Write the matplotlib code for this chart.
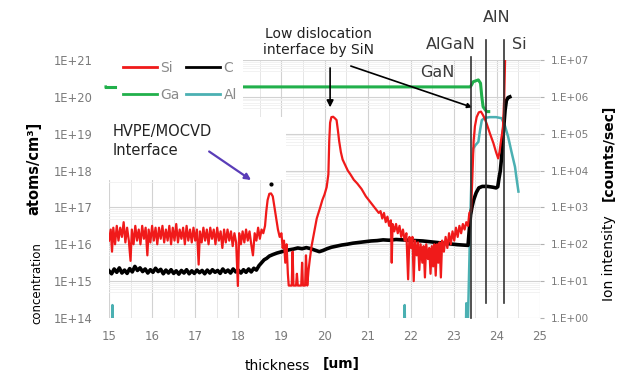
"""SIMS depth profile: Si, C, Ga, Al through the HVPE/MOCVD GaN stack."""

import matplotlib

matplotlib.use("Agg")
import matplotlib.pyplot as plt
import numpy as np
from matplotlib.patches import Rectangle
from matplotlib.ticker import FixedLocator, MultipleLocator, NullFormatter

plt.rcParams["font.family"] = ["DejaVu Sans"]

# depth [um] and log10(concentration [atoms/cm3])
si_depth = [
    15.00, 15.04, 15.07, 15.10, 15.14, 15.18, 15.22, 15.26, 15.30, 15.34, 15.38, 15.42,
    15.46, 15.50, 15.53, 15.57, 15.61, 15.65, 15.69, 15.73, 15.77, 15.81, 15.85, 15.89,
    15.92, 15.96, 16.00, 16.04, 16.08, 16.12, 16.16, 16.20, 16.24, 16.28, 16.32, 16.36,
    16.40, 16.44, 16.48, 16.52, 16.56, 16.60, 16.64, 16.68, 16.72, 16.76, 16.80, 16.84,
    16.88, 16.92, 16.96, 17.00, 17.04, 17.08, 17.11, 17.15, 17.19, 17.23, 17.27, 17.31,
    17.35, 17.39, 17.43, 17.47, 17.51, 17.55, 17.59, 17.63, 17.67, 17.71, 17.75, 17.79,
    17.83, 17.87, 17.91, 17.95, 17.99, 18.02, 18.06, 18.10, 18.14, 18.18, 18.22, 18.26,
    18.30, 18.34, 18.38, 18.42, 18.46, 18.50, 18.54, 18.58,
    18.62, 18.65, 18.68, 18.72, 18.76, 18.80, 18.84, 18.88, 18.92, 18.96, 19.00, 19.03,
    19.06, 19.09, 19.12, 19.15, 19.17, 19.20, 19.24, 19.26, 19.28, 19.34, 19.36, 19.38,
    19.46, 19.48, 19.50, 19.55, 19.57, 19.60, 19.63, 19.66, 19.70, 19.74, 19.78, 19.82,
    19.86, 19.90, 19.95, 20.00, 20.05, 20.09, 20.11, 20.13, 20.16, 20.20, 20.24, 20.28,
    20.31, 20.34, 20.38, 20.42, 20.48, 20.54, 20.60, 20.68, 20.76, 20.86, 20.96, 21.06,
    21.16, 21.26, 21.30, 21.34, 21.38, 21.42, 21.46, 21.50, 21.54, 21.56, 21.58, 21.62,
    21.66, 21.70, 21.74, 21.78, 21.82, 21.86, 21.90, 21.94, 21.97, 22.01, 22.04, 22.07,
    22.10, 22.14, 22.17, 22.20, 22.23, 22.27, 22.30, 22.33, 22.36, 22.40, 22.43, 22.46,
    22.49, 22.52, 22.55, 22.58, 22.61, 22.64, 22.67, 22.70, 22.73, 22.77, 22.81, 22.85,
    22.89, 22.93, 22.97, 23.01, 23.05, 23.09, 23.13, 23.17, 23.21, 23.25, 23.29, 23.33,
    23.36, 23.40, 23.43, 23.46, 23.49, 23.53, 23.58, 23.63, 23.68, 23.72, 23.76, 23.84,
    23.92, 23.98, 24.03, 24.06, 24.10, 24.14, 24.17, 24.19,
]
si_log = [
    16.10, 16.40, 15.80, 16.45, 16.00, 16.50, 16.10, 16.45, 16.20, 16.60, 16.05, 16.45,
    16.10, 15.55, 16.40, 16.00, 16.50, 16.10, 16.40, 16.00, 16.50, 16.15, 16.45, 15.70,
    16.40, 16.05, 16.50, 16.10, 16.45, 16.00, 16.45, 16.15, 16.50, 16.05, 16.40, 16.10,
    16.50, 16.00, 16.45, 16.10, 16.55, 16.05, 16.40, 16.15, 16.45, 16.00, 16.50, 16.10,
    16.40, 16.05, 16.45, 16.10, 16.40, 15.45, 16.35, 16.05, 16.45, 16.10, 16.40, 16.00,
    16.45, 16.15, 16.40, 16.00, 16.45, 16.10, 16.35, 15.90, 16.40, 16.05, 16.40, 16.10,
    16.35, 15.95, 16.30, 16.05, 14.87, 16.30, 16.00, 16.35, 16.05, 16.40, 16.10, 16.35,
    16.00, 15.70, 16.30, 16.10, 16.45, 16.15, 16.40, 16.30,
    16.50, 16.90, 17.20, 17.37, 17.38, 17.30, 17.00, 16.70, 16.40, 16.20, 16.30, 15.90,
    16.10, 15.50, 16.00, 15.20, 14.88, 14.88, 14.88, 15.80, 14.88, 14.88, 15.20, 14.88,
    14.88, 15.50, 14.88, 14.88, 15.70, 14.88, 15.30, 15.60, 15.95, 16.20, 16.45, 16.70,
    16.85, 17.00, 17.20, 17.35, 17.55, 17.90, 18.80, 19.30, 19.45, 19.46, 19.42, 19.37,
    19.10, 18.80, 18.50, 18.30, 18.15, 18.00, 17.90, 17.75, 17.65, 17.50, 17.30, 17.15,
    17.00, 16.85, 16.90, 16.70, 16.85, 16.60, 16.75, 16.50, 16.65, 15.50, 16.55, 16.35,
    16.55, 16.30, 16.50, 16.20, 16.40, 16.10, 16.30, 15.05, 16.20, 15.90, 16.20, 15.00,
    16.10, 15.70, 16.05, 15.30, 16.00, 15.50, 15.95, 15.10, 16.00, 15.60, 15.90, 15.20,
    15.95, 15.40, 16.00, 15.15, 16.00, 15.50, 16.05, 15.10, 16.10, 15.80, 16.20, 15.90,
    16.30, 16.00, 16.35, 16.10, 16.45, 16.20, 16.50, 16.30, 16.55, 16.40, 16.60, 16.50,
    16.85, 16.90, 17.80, 18.80, 19.20, 19.45, 19.58, 19.60, 19.50, 19.40, 19.28, 19.00,
    18.74, 18.50, 18.33, 18.50, 18.85, 19.15, 20.00, 21.00,
]

c_depth = [
    15.00, 15.06, 15.12, 15.18, 15.24, 15.30, 15.36, 15.42, 15.48, 15.54, 15.60, 15.66,
    15.72, 15.78, 15.84, 15.90, 15.96, 16.02, 16.08, 16.14, 16.20, 16.26, 16.32, 16.38,
    16.44, 16.50, 16.56, 16.62, 16.68, 16.74, 16.80, 16.86, 16.92, 16.98, 17.04, 17.10,
    17.16, 17.22, 17.28, 17.34, 17.40, 17.46, 17.52, 17.58, 17.64, 17.70, 17.76, 17.82,
    17.88, 17.94, 18.00, 18.06, 18.12, 18.18, 18.24, 18.30, 18.36, 18.42,
    18.48, 18.54, 18.60, 18.66, 18.72, 18.80, 18.89, 18.98, 19.08, 19.18, 19.28, 19.38,
    19.48, 19.58, 19.68, 19.78, 19.88, 19.96, 20.06, 20.16, 20.28, 20.40, 20.52, 20.66,
    20.80, 20.94, 21.08, 21.22, 21.36, 21.50, 21.66, 21.80, 21.96, 22.12, 22.28, 22.44,
    22.60, 22.76, 22.92, 23.08, 23.20, 23.33,
    23.36, 23.39, 23.42, 23.46, 23.52, 23.58, 23.66, 23.78, 23.90, 23.98, 24.02, 24.05,
    24.08, 24.12, 24.16, 24.19, 24.22, 24.26, 24.30,
]
c_log = [
    15.28, 15.20, 15.33, 15.24, 15.36, 15.22, 15.30, 15.21, 15.34, 15.25, 15.40, 15.29,
    15.36, 15.26, 15.33, 15.22, 15.31, 15.24, 15.35, 15.26, 15.32, 15.20, 15.30, 15.22,
    15.31, 15.21, 15.28, 15.19, 15.29, 15.22, 15.31, 15.20, 15.28, 15.21, 15.30, 15.23,
    15.29, 15.20, 15.30, 15.22, 15.31, 15.24, 15.29, 15.21, 15.33, 15.24, 15.30, 15.22,
    15.33, 15.25, 15.30, 15.22, 15.31, 15.24, 15.33, 15.25, 15.35, 15.30,
    15.42, 15.50, 15.58, 15.62, 15.68, 15.72, 15.76, 15.79, 15.82, 15.85, 15.87, 15.90,
    15.88, 15.91, 15.88, 15.84, 15.80, 15.83, 15.88, 15.92, 15.95, 15.98, 16.00, 16.03,
    16.05, 16.07, 16.09, 16.10, 16.12, 16.11, 16.13, 16.12, 16.11, 16.10, 16.09, 16.07,
    16.05, 16.03, 16.01, 15.99, 15.98, 15.97,
    16.40, 16.80, 17.00, 17.20, 17.40, 17.53, 17.57, 17.57, 17.55, 17.53, 17.56, 17.80,
    18.00, 18.50, 19.20, 19.64, 19.90, 19.98, 20.00,
]

ga_depth = [14.93, 23.38, 23.41, 23.45, 23.57, 23.62, 23.65, 23.68, 23.76, 23.81]
ga_log = [20.27, 20.27, 20.32, 20.41, 20.46, 20.37, 20.00, 19.73, 19.60, 19.60]

al_depth = [
    15.00, 15.07, 15.08, 15.09, 21.85, 21.86, 21.87, 23.28, 23.29, 23.30, 23.33, 23.36,
    23.39, 23.42, 23.45, 23.51, 23.57, 23.61, 23.65, 23.72, 23.84, 23.98, 24.11, 24.19,
    24.26, 24.34, 24.42, 24.46, 24.50,
]
al_log = [
    13.50, 13.50, 14.35, 13.50, 13.50, 14.35, 13.50, 13.50, 14.40, 13.50, 14.00, 15.50,
    17.00, 18.20, 18.60, 18.70, 18.78, 19.10, 19.37, 19.43, 19.45, 19.45, 19.42, 19.20,
    18.92, 18.50, 18.10, 17.75, 17.43,
]

# layer boundaries: depth, log10 top, log10 bottom
layer_x = [23.40, 23.74, 24.16]
layer_top = [21.08, 21.54, 21.54]
layer_bottom = [14.00, 14.41, 14.41]
layer_names = ["AlGaN", "AlN", "Si", "GaN"]
layer_label_pos = [(22.94, 21.43), (23.99, 22.15), (24.52, 21.43), (22.62, 20.66)]

left_ticks = [1e14, 1e15, 1e16, 1e17, 1e18, 1e19, 1e20, 1e21]
left_labels = ["1E+14", "1E+15", "1E+16", "1E+17", "1E+18", "1E+19", "1E+20", "1E+21"]
right_ticks = [1e0, 1e1, 1e2, 1e3, 1e4, 1e5, 1e6, 1e7]
right_labels = ["1.E+00", "1.E+01", "1.E+02", "1.E+03", "1.E+04", "1.E+05", "1.E+06", "1.E+07"]
x_ticks = list(range(15, 26))

RED = "#f01a1a"
GREEN = "#21b04b"
TEAL = "#4bb0b2"
GRAY_TXT = "#7a7a7a"

W, H = 631, 376
fig = plt.figure(figsize=(W / 100, H / 100), dpi=100)
ax = fig.add_axes([109 / W, 58 / H, 431 / W, 258 / H])

ax.set_yscale("log")
ax.set_xlim(15, 25)
ax.set_ylim(1e14, 1e21)
ax.set_axisbelow(True)

ax.set_xticks(x_ticks)
ax.set_xticklabels([str(t) for t in x_ticks])
ax.xaxis.set_minor_locator(MultipleLocator(0.5))
ax.set_yticks(left_ticks)
ax.set_yticklabels(left_labels)
ax.yaxis.set_minor_locator(FixedLocator([m * 10.0**e for e in range(14, 21) for m in range(5, 10)]))
ax.yaxis.set_minor_formatter(NullFormatter())
ax.tick_params(axis="y", which="both", length=0, pad=12, labelsize=8.3, labelcolor=GRAY_TXT)
ax.tick_params(axis="x", which="both", length=0, pad=9, labelsize=8.5, labelcolor=GRAY_TXT)
ax.grid(True, which="major", color="#d2d2d2", lw=0.8)
ax.grid(True, which="minor", axis="x", color="#e2e2e2", lw=0.6)
ax.grid(True, which="minor", axis="y", color="#f0f0f0", lw=0.6)
for sp in ax.spines.values():
    sp.set_visible(False)

# white boxes behind the legend and the HVPE note hide grid and the Ga line
ax.add_patch(Rectangle((-0.005, 0.778), 0.315, 0.25, transform=ax.transAxes,
                       facecolor="white", edgecolor="none", zorder=5.5, clip_on=False))
ax.add_patch(Rectangle((-0.005, 0.535), 0.415, 0.245, transform=ax.transAxes,
                       facecolor="white", edgecolor="none", zorder=5.5, clip_on=False))

ax.plot(al_depth, 10 ** np.array(al_log), color=TEAL, lw=1.8, zorder=3)
ax.plot(ga_depth, 10 ** np.array(ga_log), color=GREEN, lw=2.2, zorder=3, clip_on=False)
ax.plot(c_depth, 10 ** np.array(c_log), color="black", lw=2.6, zorder=4)
ax.plot(si_depth, 10 ** np.array(si_log), color=RED, lw=1.6, zorder=4)

for x, top, bot in zip(layer_x, layer_top, layer_bottom):
    ax.plot([x, x], [10**bot, 10**top], color="#333333", lw=1.2, zorder=5, clip_on=False)
for name, (x, y) in zip(layer_names, layer_label_pos):
    ax.text(x, 10**y, name, ha="center", va="center", fontsize=11.5, color="#3a3a3a")

# legend drawn over the left end of the Ga line
handles = [
    plt.Line2D([], [], color=RED, lw=2),
    plt.Line2D([], [], color=GREEN, lw=2),
    plt.Line2D([], [], color="black", lw=2),
    plt.Line2D([], [], color=TEAL, lw=2),
]
leg = ax.legend(handles, ["Si", "Ga", "C", "Al"], ncol=2, loc="upper left",
                bbox_to_anchor=(0.032, 0.995), frameon=False, fontsize=10,
                handlelength=2.45, handletextpad=0.25, columnspacing=0.45,
                labelspacing=0.9, borderpad=0, borderaxespad=0)
for t in leg.get_texts():
    t.set_color("#8a8a8a")
leg.set_zorder(6)
ax.plot([14.93, 15.13], [10**20.27, 10**20.27], color=GREEN, lw=2.2, zorder=7, clip_on=False)

# annotations
ax.text(19.85, 10**21.49, "Low dislocation\ninterface by SiN", ha="center", va="center",
        fontsize=10, linespacing=1.15, color="#222222")
ax.annotate("", xy=(20.13, 10**19.64), xytext=(20.13, 10**20.86),
            arrowprops=dict(arrowstyle="-|>", color="black", lw=1.2, mutation_scale=10))
ax.annotate("", xy=(23.49, 10**19.69), xytext=(20.55, 10**20.86),
            arrowprops=dict(arrowstyle="-|>", color="black", lw=1.2, mutation_scale=7))
ax.text(15.09, 10**18.8, "HVPE/MOCVD\nInterface", ha="left", va="center",
        fontsize=10.5, linespacing=1.3, color="#222222", zorder=7)
ax.annotate("", xy=(18.35, 10**17.70), xytext=(17.27, 10**18.56), zorder=7,
            arrowprops=dict(arrowstyle="-|>", color="#5a3db8", lw=1.6, mutation_scale=9))
ax.plot([18.77], [10**17.64], marker="o", ms=2, color="black", zorder=7)

# right-hand ion intensity scale
ax2 = ax.twinx()
ax2.set_yscale("log")
ax2.set_ylim(1, 1e7)
ax2.set_yticks(right_ticks)
ax2.set_yticklabels(right_labels)
ax2.yaxis.set_minor_formatter(NullFormatter())
ax2.tick_params(axis="y", which="minor", length=0)
ax2.tick_params(axis="y", which="major", length=3, color="#b0b0b0", pad=5,
                labelsize=7.5, labelcolor=GRAY_TXT)
for sp in ax2.spines.values():
    sp.set_visible(False)

# axis titles
fig.text(34 / W, 1 - 168 / H, "atoms/cm³]", rotation=90, ha="center", va="center",
         fontsize=10.5, fontweight="bold")
fig.text(37 / W, 1 - 283 / H, "concentration", rotation=90, ha="center", va="center",
         fontsize=8.5)
fig.text(609 / W, 1 - 153 / H, "[counts/sec]", rotation=90, ha="center", va="center",
         fontsize=10, fontweight="bold")
fig.text(609 / W, 1 - 258 / H, "Ion intensity", rotation=90, ha="center", va="center",
         fontsize=10)
fig.text(277 / W, 1 - 366 / H, "thickness", ha="center", va="center", fontsize=10)
fig.text(341 / W, 1 - 364 / H, "[um]", ha="center", va="center", fontsize=10,
         fontweight="bold")

fig.savefig("out.png", dpi=100)
